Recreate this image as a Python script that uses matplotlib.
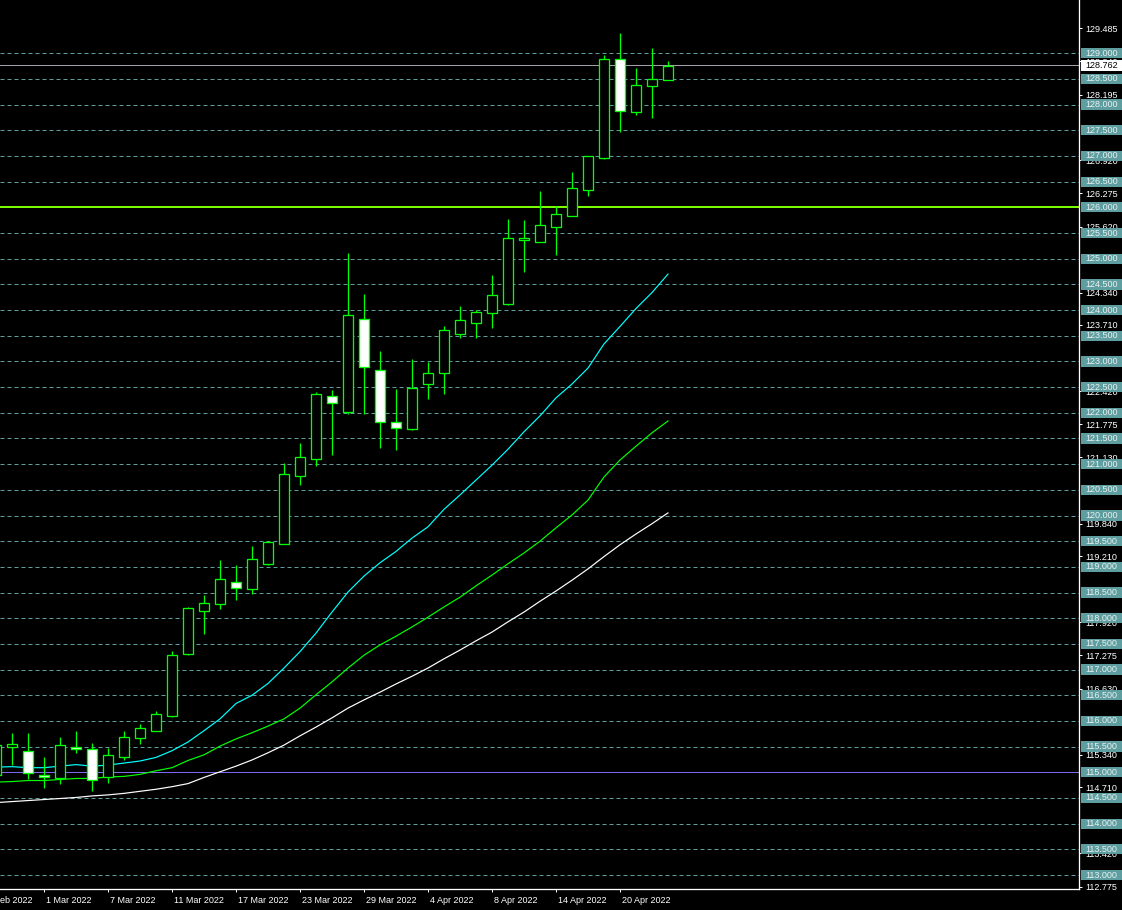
import numpy as np
import matplotlib.pyplot as plt
from matplotlib.patches import Rectangle
from matplotlib import transforms

plt.rcParams['font.family'] = ['Liberation Sans', 'DejaVu Sans']

# ===== DATA (daily bars, 24 Feb 2022 .. 25 Apr 2022) =====
opens = [114.94, 115.49, 115.41, 114.94, 114.88, 115.50, 115.46, 114.91, 115.29, 115.66,
         115.81, 116.10, 117.31, 118.15, 118.27, 118.70, 118.56, 119.06, 119.45, 120.77,
         121.10, 122.33, 122.01, 123.83, 122.84, 121.82, 121.68, 122.56, 122.77, 123.53,
         123.74, 123.95, 124.12, 125.36, 125.32, 125.61, 125.84, 126.33, 126.97, 128.88,
         127.85, 128.36, 128.47]
highs = [115.60, 115.77, 115.77, 115.29, 115.69, 115.81, 115.57, 115.47, 115.81, 115.94,
         116.19, 117.36, 118.21, 118.45, 119.14, 119.04, 119.41, 119.50, 121.03, 121.42,
         122.41, 122.45, 125.12, 124.32, 123.21, 122.47, 123.04, 122.98, 123.68, 124.07,
         124.01, 124.68, 125.77, 125.75, 126.31, 126.02, 126.68, 126.99, 128.96, 129.39,
         128.71, 129.10, 128.84]
lows = [114.85, 115.14, 114.86, 114.70, 114.78, 115.38, 114.64, 114.80, 115.24, 115.55,
        115.81, 116.08, 117.29, 117.70, 118.17, 118.36, 118.47, 119.04, 119.45, 120.59,
        120.96, 121.18, 121.97, 121.97, 121.31, 121.27, 121.66, 122.26, 122.36, 123.45,
        123.46, 123.66, 124.10, 124.75, 125.32, 125.08, 125.84, 126.23, 126.94, 127.46,
        127.79, 127.73, 128.47]
closes = [115.53, 115.55, 114.98, 114.90, 115.53, 115.46, 114.85, 115.33, 115.68, 115.86,
          116.13, 117.28, 118.19, 118.29, 118.76, 118.58, 119.15, 119.49, 120.81, 121.14,
          122.37, 122.19, 123.91, 122.90, 121.82, 121.71, 122.49, 122.78, 123.62, 123.81,
          123.97, 124.29, 125.40, 125.40, 125.65, 125.88, 126.37, 126.99, 128.88, 127.87,
          128.38, 128.49, 128.76]

ma_cyan = [115.10, 115.11, 115.09, 115.09, 115.12, 115.15, 115.12, 115.14, 115.18, 115.22,
           115.29, 115.42, 115.59, 115.81, 116.04, 116.34, 116.50, 116.73, 117.03, 117.35,
           117.71, 118.12, 118.51, 118.82, 119.08, 119.30, 119.56, 119.78, 120.12, 120.40,
           120.69, 120.98, 121.29, 121.63, 121.94, 122.29, 122.56, 122.87, 123.34, 123.68,
           124.03, 124.34, 124.70]
ma_green = [114.81, 114.82, 114.84, 114.84, 114.86, 114.88, 114.88, 114.91, 114.92, 114.96,
            115.03, 115.09, 115.23, 115.34, 115.51, 115.65, 115.77, 115.90, 116.04, 116.25,
            116.51, 116.76, 117.03, 117.28, 117.48, 117.65, 117.83, 118.02, 118.22, 118.41,
            118.63, 118.84, 119.06, 119.27, 119.50, 119.76, 120.01, 120.30, 120.75, 121.08,
            121.35, 121.61, 121.84]
ma_white = [114.41, 114.43, 114.45, 114.47, 114.49, 114.51, 114.54, 114.56, 114.59, 114.63,
            114.67, 114.72, 114.78, 114.90, 115.01, 115.12, 115.24, 115.38, 115.53, 115.71,
            115.88, 116.06, 116.25, 116.41, 116.56, 116.72, 116.87, 117.03, 117.21, 117.38,
            117.56, 117.73, 117.93, 118.12, 118.33, 118.53, 118.74, 118.96, 119.20, 119.43,
            119.64, 119.84, 120.05]

date_pos = [-1, 3, 7, 11, 15, 19, 23, 27, 31, 35, 39]
date_labels = ["23 Feb 2022", "1 Mar 2022", "7 Mar 2022", "11 Mar 2022", "17 Mar 2022",
               "23 Mar 2022", "29 Mar 2022", "4 Apr 2022", "8 Apr 2022", "14 Apr 2022",
               "20 Apr 2022"]

# price scale labels that are not hidden behind the grid boxes
scale_labels = [129.485, 128.840, 128.195, 126.920, 126.275, 125.620, 124.340, 123.710,
                122.420, 121.775, 121.130, 119.840, 119.210, 117.920, 117.275, 116.630,
                115.340, 114.710, 113.420, 112.775]
grid_levels = np.arange(113.0, 129.01, 0.5)

bid = 128.762
level_green = 126.0
level_blue = 115.0

# ===== COLOURS =====
BG = "black"
CANDLE = "#00ff00"
GRID = "#5f9ea0"
PX = 0.72  # one pixel in points

W, H = 1122, 910
fig = plt.figure(figsize=(W / 100, H / 100), dpi=100)
fig.patch.set_facecolor(BG)
ax = fig.add_axes([0, 21 / H, 1079 / W, 889 / H])
ax.set_facecolor(BG)

n = len(closes)
idx = np.arange(n)

# grid
for g in grid_levels:
    ax.axhline(g, color=GRID, lw=PX, ls=(0, (4, 3)), zorder=1)

# special horizontal lines
ax.axhline(level_blue, color="#7b68ee", lw=PX, zorder=2)
ax.axhline(level_green, color="#7cfc00", lw=2 * PX, zorder=2)
ax.axhline(bid, color="#a0a0a8", lw=PX, zorder=2)

# moving averages
ax.plot(idx, ma_white, color="white", lw=PX * 1.2, zorder=3)
ax.plot(idx, ma_green, color="#00ff00", lw=PX * 1.2, zorder=3)
ax.plot(idx, ma_cyan, color="#00ffff", lw=PX * 1.2, zorder=3)

# candles
bw = 0.6
ax.vlines(idx, lows, highs, color=CANDLE, lw=PX * 1.3, zorder=4)
for i in range(n):
    o, c = opens[i], closes[i]
    fill = "black" if c >= o else "white"
    ax.add_patch(Rectangle((i - bw / 2, min(o, c)), bw, max(abs(c - o), 0.02),
                           facecolor=fill, edgecolor=CANDLE, lw=PX * 1.3, zorder=5))

ax.set_xlim(0.25, 67.69)
ax.set_ylim(112.728, 130.037)

for s in ["top", "left"]:
    ax.spines[s].set_visible(False)
for s in ["right", "bottom"]:
    ax.spines[s].set_color("white")
    ax.spines[s].set_linewidth(PX * 1.3)

# right price scale
ax.yaxis.tick_right()
ax.set_yticks(scale_labels)
ax.set_yticklabels([f"{v:.3f}" for v in scale_labels])
ax.tick_params(axis="y", colors="white", length=2.2, width=PX, pad=2.2, labelsize=6.5)

# date axis
ax.set_xticks(date_pos[1:])
ax.set_xticklabels(date_labels[1:])
ax.tick_params(axis="x", colors="white", length=2.2, width=PX, pad=2.5, labelsize=6.5)
shift = transforms.ScaledTranslation(2 / 100, 0, fig.dpi_scale_trans)
for lbl in ax.get_xticklabels():
    lbl.set_ha("left")
    lbl.set_transform(lbl.get_transform() + shift)
# first label is cut by the left edge
xt = transforms.blended_transform_factory(ax.transData, ax.transAxes)
ax.text(date_pos[0], -0.0125, date_labels[0], transform=xt + shift, ha="left", va="center",
        color="white", fontsize=6.5, clip_on=False)

# grid price boxes on the right
bt = transforms.blended_transform_factory(fig.transFigure, ax.transData)
bh = 0.2
for g in grid_levels:
    ax.add_patch(Rectangle((1081 / W, g - bh / 2), 1 - 1081 / W, bh, transform=bt,
                           facecolor=GRID, edgecolor="none", clip_on=False, zorder=6))
    ax.text(1085 / W, g, f"{g:.3f}", transform=bt, ha="left", va="center",
            color="#e8f0f0", fontsize=6.5, clip_on=False, zorder=7)

# bid box
ax.add_patch(Rectangle((1081 / W, bid - bh / 2), 1 - 1081 / W, bh, transform=bt,
                       facecolor="white", edgecolor="none", clip_on=False, zorder=8))
ax.text(1085 / W, bid, f"{bid:.3f}", transform=bt, ha="left", va="center",
        color="black", fontsize=6.5, clip_on=False, zorder=9)

fig.savefig("out.png", dpi=100, facecolor=BG)
